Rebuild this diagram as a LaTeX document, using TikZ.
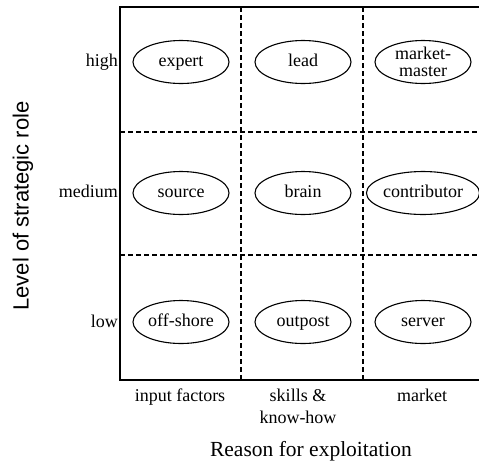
\documentclass[tikz,border=0pt]{standalone}
\usepackage{fontspec}
\setmainfont{Liberation Serif}
\newfontfamily\axisfont{Liberation Sans}
\usetikzlibrary{shapes.geometric}
\begin{document}
\begin{tikzpicture}[x=1pt,y=-1pt,
  rolebox/.style={draw, ellipse, line width=1.1pt, minimum width=96pt, minimum height=43pt, inner sep=0pt, font=\fontsize{18}{17}\selectfont, text height=12pt, text depth=4pt},
  rolebox2/.style={draw, ellipse, line width=1.1pt, minimum width=96pt, minimum height=43pt, inner sep=0pt, font=\fontsize{18}{17}\selectfont, align=center},
  lbl/.style={inner sep=0pt, font=\fontsize{18}{22}\selectfont, align=center},
  frame/.style={line width=2pt},
  grid/.style={line width=1.4pt, dash pattern=on 5pt off 3pt}]
\useasboundingbox (0,0) rectangle (479,464);
% coordinates
\coordinate (tl) at (120,7);
\coordinate (bl) at (120,380);
\coordinate (tr) at (479,7);
\coordinate (br) at (479,380);
% dashed grid
\draw[grid] (120,132) -- (479,132);
\draw[grid] (120,255) -- (479,255);
\draw[grid] (241,7) -- (241,380);
\draw[grid] (363,7) -- (363,380);
% frame
\draw[frame] (tr) -- (tl) -- (bl) -- (br);
% cells
\node[rolebox] (expert) at (181,62) {expert};
\node[rolebox] (lead) at (303,62) {lead};
\node[rolebox2] (mm) at (423,62) {market-\\master};
\node[rolebox] (source) at (181,193) {source};
\node[rolebox] (brain) at (303,193) {brain};
\node[rolebox] (contrib) at (423,193) {contributor};
\node[rolebox] (offshore) at (181,322) {off-shore};
\node[rolebox] (outpost) at (303,322) {outpost};
\node[rolebox] (server) at (423,322) {server};
% row labels
\node[lbl, anchor=east, text height=12pt, text depth=4pt] (high) at (118,62) {high};
\node[lbl, anchor=east, text height=12pt, text depth=4pt] (medium) at (118,193) {medium};
\node[lbl, anchor=east, text height=12pt, text depth=4pt] (low) at (118,323) {low};
% column labels
\node[lbl, anchor=north] (input) at (180,389) {input factors};
\node[lbl, anchor=north] (skills) at (298,389) {skills \&\\know-how};
\node[lbl, anchor=north] (market) at (422,389) {market};
% axis titles
\node[inner sep=0pt, font=\fontsize{21.5}{24}\selectfont] (xtitle) at (311,451) {Reason for exploitation};
\node[inner sep=0pt, rotate=90, font=\axisfont\fontsize{22}{24}\selectfont] (ytitle) at (23,206) {Level of strategic role};
\end{tikzpicture}
\end{document}
